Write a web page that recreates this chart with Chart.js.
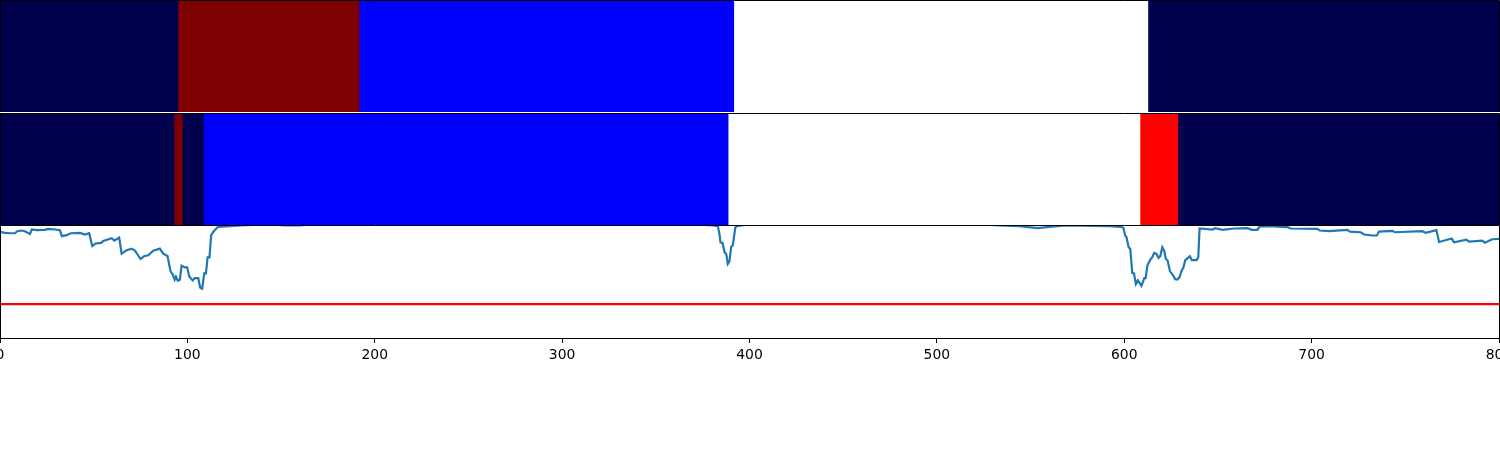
<!DOCTYPE html>
<html>
<head>
<meta charset="utf-8">
<title>Segments</title>
<script src="https://cdn.jsdelivr.net/npm/chart.js@4/dist/chart.umd.min.js"></script>
<style>
  html, body { margin: 0; padding: 0; background: #fff; overflow: hidden; }
  .panel { position: absolute; left: 0; width: 1500px; }
  #p1 { top: 0; height: 112px; }
  #p2 { top: 113px; height: 112px; }
  #p3 { top: 225px; height: 145px; }
</style>
</head>
<body>
<div class="panel" id="p1"><canvas id="topStrip"></canvas></div>
<div class="panel" id="p2"><canvas id="midStrip"></canvas></div>
<div class="panel" id="p3"><canvas id="scoreChart"></canvas></div>
<script>
// --------------------
// Data
// --------------------
const xTicks = [0, 100, 200, 300, 400, 500, 600, 700, 800];

// segment edges and the state of each segment
const topEdges = [0, 95, 191.6, 391.6, 612.6, 800];
const topStates = ['bg', 'dark', 'blue', 'white', 'bg'];
const midEdges = [0, 92.9, 97.2, 108.6, 388.6, 608.4, 628.6, 800];
const midStates = ['bg', 'dark', 'bg', 'blue', 'white', 'red', 'bg'];

const threshold = 0.3;

const scoreX = [
  0, 2.7, 5.3, 8, 9.2, 11.6, 13.3, 16, 17, 19.6, 24, 25.8, 29.3, 32, 33, 35.6, 37.7, 42.7, 45.3, 47.6,
  49.2, 51, 53.9, 55.1, 59.6, 61, 63.6, 64.9, 67.6, 70.2, 72, 75, 76.8, 79.1, 81.8, 85.3, 87.1, 89.4,
  91, 92.1, 93.2, 93.9, 94.9, 96, 96.9, 98.7, 99.9, 101, 102.8, 104, 105.8, 106.8, 107.9, 109, 109.9,
  110.8, 111.8, 112.7, 114.1, 116.4, 120.9, 128, 135, 145, 152, 160, 168, 250, 370,
  380.4, 383.1, 384, 384.5, 385.6, 386.7, 387.6, 388.4, 389.3, 390.2, 391.1, 392.4, 393.2, 395.6, 400, 520,
  533.3, 544, 553.8, 560, 568.9, 592, 598.2, 599.5, 600.5, 601.2, 602.3, 603.2, 604.3, 605.2, 606.2,
  607.3, 609.2, 610.7, 611.4, 612.4, 613.9, 614.9, 616, 617.2, 618.3, 619.2, 620.3, 621.3, 622.2, 623.1,
  624.4, 625.6, 627.2, 628.4, 629.5, 630.8, 631.5, 632.5, 635, 636.1, 638.6, 639.5, 640.2, 647.1, 648.5,
  652.4, 658.7, 665.8, 668.1, 671.1, 672.4, 679.1, 687.1, 688.9, 703.1, 704.4, 709.3, 719.1, 720.4,
  726.2, 728, 732.4, 734.8, 736, 743.1, 744.4, 759.1, 760.9, 766.6, 768, 774.8, 776, 782.6, 784, 791.1,
  792.4, 796.4, 800
];
const scoreY = [
  .939, .930, .927, .927, .945, .951, .945, .921, .960, .954, .957, .966, .960, .954, .901, .910, .927, .930, .916, .927,
  .815, .836, .842, .859, .883, .862, .889, .747, .776, .791, .773, .699, .723, .732, .773, .791, .747, .726,
  .590, .566, .516, .542, .507, .516, .640, .625, .625, .545, .510, .530, .530, .447, .436, .572, .572,
  .714, .714, .910, .945, .984, .987, .996, 1.0, 1.005, .997, .996, 1.01, 1.02, 1.01,
  .996, .990, .916, .847, .842, .758, .744, .655, .678, .806, .821, .975, .990, .996, 1.01, 1.01,
  .996, .990, .972, .984, .996, .990, .984, .975, .907, .892, .806, .788, .575, .572, .477,
  .510, .462, .530, .530, .643, .693, .714, .753, .744, .708, .723, .803, .773, .699, .687,
  .590, .566, .521, .518, .539, .604, .619, .687, .723, .690, .690, .714, .969, .960, .972,
  .957, .969, .972, .957, .957, .990, .987, .981, .969, .966, .951, .945, .957, .942,
  .936, .916, .907, .907, .942, .948, .936, .945, .930, .954, .850, .880, .847, .871, .853, .862,
  .844, .874, .877
];

// --------------------
// Styles
// --------------------
const stateColors = { bg: '#00004c', dark: '#7f0000', blue: '#0000ff', white: '#ffffff', red: '#ff0000' };
const FONT = { family: '"DejaVu Sans"', size: 13.9 };

Chart.defaults.animation = false;
Chart.defaults.responsive = false;
Chart.defaults.devicePixelRatio = 1;

// top and side spines; the bottom one only shows on the last panel (x axis border)
const frame = {
  id: 'frame',
  afterDatasetsDraw(chart) {
    const { ctx, chartArea: a } = chart;
    ctx.save();
    ctx.strokeStyle = '#000';
    ctx.lineWidth = 1;
    ctx.beginPath();
    ctx.moveTo(a.left + 0.5, a.bottom);
    ctx.lineTo(a.left + 0.5, a.top + 0.5);
    ctx.lineTo(a.right + 0.5, a.top + 0.5);
    ctx.lineTo(a.right + 0.5, a.bottom);
    ctx.stroke();
    ctx.restore();
  }
};

function sizeCanvas(id) {
  const c = document.getElementById(id);
  c.width = 1500;
  c.height = c.parentNode.clientHeight;
  return c;
}

function createStrip(canvasId, edges, states) {
  return new Chart(sizeCanvas(canvasId), {
    type: 'bar',
    data: {
      labels: ['state'],
      datasets: states.map((s, i) => ({
        data: [[edges[i], edges[i + 1]]],
        backgroundColor: stateColors[s],
        borderWidth: 0,
        barPercentage: 1,
        categoryPercentage: 1,
        grouped: false
      }))
    },
    options: {
      indexAxis: 'y',
      layout: { autoPadding: false, padding: { right: 1 } },
      plugins: { legend: { display: false }, tooltip: { enabled: false } },
      scales: {
        x: { type: 'linear', min: 0, max: 800, display: false },
        y: { display: false }
      }
    },
    plugins: [frame]
  });
}

function createScoreChart(canvasId) {
  return new Chart(sizeCanvas(canvasId), {
    type: 'line',
    data: {
      datasets: [
        {
          data: scoreX.map((x, i) => ({ x, y: scoreY[i] })),
          borderColor: '#1f77b4',
          borderWidth: 2.2,
          pointRadius: 0,
          tension: 0
        },
        {
          data: [{ x: xTicks[0], y: threshold }, { x: xTicks[xTicks.length - 1], y: threshold }],
          borderColor: '#ff0000',
          borderWidth: 2.2,
          pointRadius: 0
        }
      ]
    },
    options: {
      layout: { autoPadding: false, padding: { right: 1 } },
      plugins: { legend: { display: false }, tooltip: { enabled: false } },
      scales: {
        x: {
          type: 'linear',
          min: 0,
          max: 800,
          afterBuildTicks: s => { s.ticks = xTicks.map(value => ({ value })); },
          // the end labels run off the page on the original, so no room is kept for them
          afterFit: s => { s.height = 32; s.paddingLeft = 0; s.paddingRight = 0; },
          grid: { drawOnChartArea: false, drawTicks: true, tickLength: 5, color: '#000' },
          border: { display: true, color: '#000', width: 1 },
          ticks: { color: '#000', font: FONT, padding: 4, maxRotation: 0, autoSkip: false, callback: v => v }
        },
        y: { min: 0, max: 1, display: false }
      }
    },
    plugins: [frame]
  });
}

createStrip('topStrip', topEdges, topStates);
createStrip('midStrip', midEdges, midStates);
createScoreChart('scoreChart');
</script>
</body>
</html>
